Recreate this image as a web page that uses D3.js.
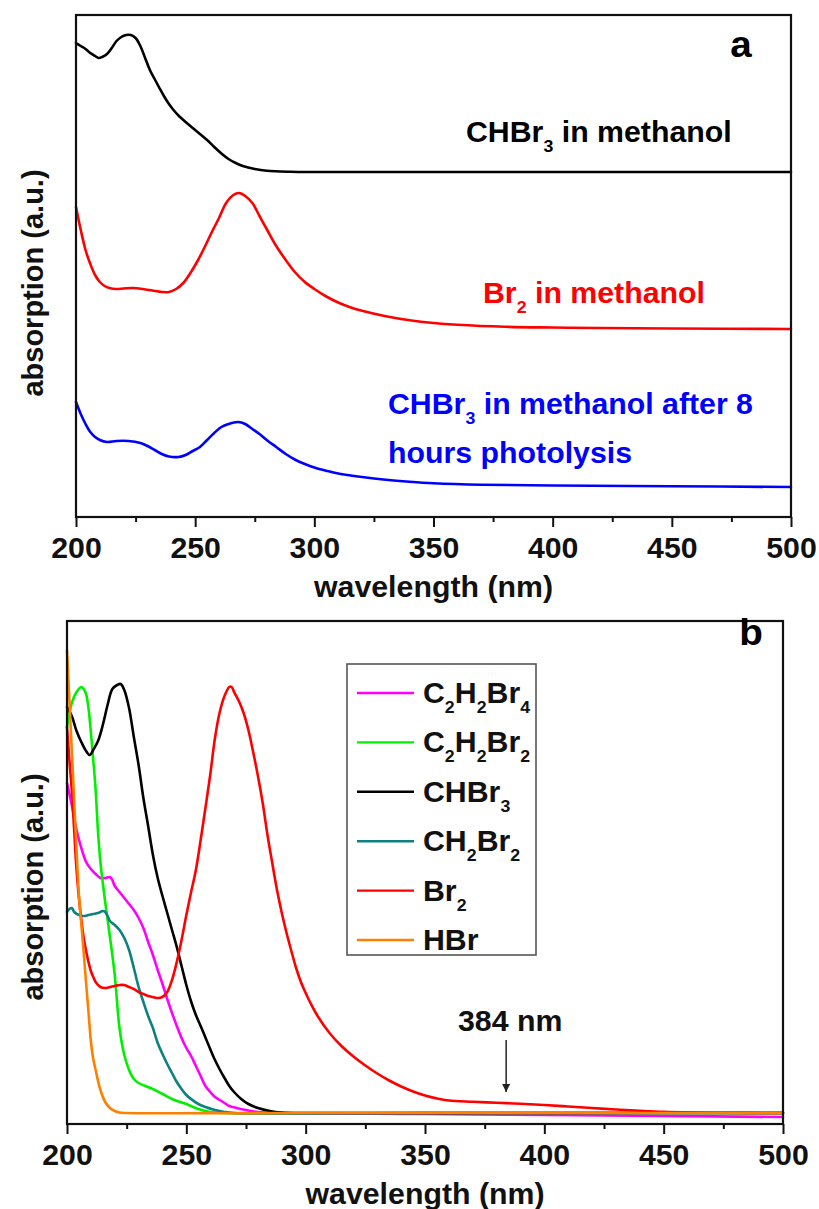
<!DOCTYPE html>
<html>
<head>
<meta charset="utf-8">
<script src="https://cdn.jsdelivr.net/npm/d3@7/dist/d3.min.js"></script>
<style>
  html, body { margin: 0; padding: 0; background: #fff; }
  svg text { font-family: "Liberation Sans", Arial, sans-serif; font-weight: bold; }
</style>
</head>
<body>
<svg id="chart" width="819" height="1209"></svg>
<script>
// ---------- shared axis data ----------
const wavelengthTicks = [200, 250, 300, 350, 400, 450, 500];
const wavelengthMinorTicks = [225, 275, 325, 375, 425, 475];

// ---------- panel a: spectra in methanol (offset for clarity) ----------
const chbr3Methanol = [
  [200,1.896],[202,1.884],[204,1.872],[206,1.856],[208,1.844],[209.5,1.836],[211,1.84],
  [213,1.852],[215,1.876],[217,1.904],[219,1.92],[221,1.928],[223,1.928],[225,1.916],
  [227,1.884],[229,1.836],[231,1.788],[233,1.752],[235,1.716],[237,1.682],[239,1.652],
  [241,1.627],[243,1.606],[246,1.58],[249,1.556],[252,1.532],[255,1.508],[258,1.48],
  [261,1.454],[264,1.432],[267,1.416],[270,1.404],[275,1.392],[280,1.385],[290,1.381],
  [300,1.38],[350,1.38],[400,1.38],[450,1.38],[500,1.38]
];
const br2Methanol = [
  [200,1.24],[202,1.148],[204,1.068],[206,1.012],[208,0.968],[210,0.94],[212,0.924],
  [214,0.916],[217,0.912],[220,0.914],[224,0.916],[228,0.912],[232,0.906],[236,0.9],
  [239,0.9],[242,0.912],[245,0.936],[248,0.976],[251,1.024],[254,1.08],[257,1.14],
  [260,1.196],[263,1.256],[266,1.288],[268.5,1.296],[271,1.284],[274,1.256],[277,1.204],
  [280,1.152],[284,1.084],[288,1.028],[292,0.978],[296,0.94],[300,0.912],[305,0.882],
  [310,0.858],[315,0.839],[320,0.825],[330,0.803],[340,0.787],[350,0.776],[360,0.769],
  [380,0.761],[400,0.758],[420,0.756],[450,0.754],[500,0.752]
];
const chbr3Photolysis = [
  [200,0.46],[202,0.412],[204,0.372],[206,0.34],[208,0.32],[210,0.308],[213,0.3],
  [217,0.304],[222,0.304],[227,0.296],[230,0.284],[233,0.268],[236,0.252],[239,0.242],
  [243,0.24],[246,0.248],[249,0.264],[252,0.28],[255,0.308],[258,0.336],[261,0.36],
  [264,0.372],[268,0.38],[271,0.372],[274,0.352],[277,0.332],[280,0.308],[284,0.28],
  [288,0.252],[292,0.229],[296,0.212],[300,0.198],[305,0.185],[310,0.174],[320,0.16],
  [330,0.149],[340,0.141],[350,0.135],[370,0.129],[400,0.126],[450,0.123],[500,0.12]
];

// ---------- panel b: reference compounds ----------
const c2h2br4 = [
  [200,1.32],[202,1.232],[204,1.132],[206,1.06],[208,1.004],[210,0.976],[212,0.956],
  [214,0.94],[216,0.94],[218,0.944],[219,0.932],[220,0.908],[222,0.884],[224,0.86],
  [226,0.836],[228,0.812],[230,0.78],[232,0.74],[234,0.684],[236,0.632],[238,0.572],
  [240,0.516],[242,0.456],[244,0.4],[246,0.348],[248,0.3],[250,0.26],[252,0.228],
  [254,0.188],[256,0.148],[258,0.108],[260,0.084],[262,0.064],[264,0.052],[266,0.04],
  [268,0.028],[271,0.02],[275,0.012],[280,0.004],[290,0],[350,-0.004],[400,-0.008],
  [450,-0.012],[500,-0.016]
];
const c2h2br2 = [
  [200,1.544],[202,1.64],[204,1.684],[206,1.704],[207,1.696],[208,1.676],[209,1.62],
  [210,1.524],[211,1.412],[212,1.292],[213,1.124],[214,1.004],[216,0.844],[218,0.704],
  [220,0.552],[222,0.34],[224,0.232],[226,0.172],[228,0.136],[230,0.12],[235,0.1],
  [240,0.076],[245,0.052],[250,0.036],[255,0.016],[260,0.004],[265,0],[300,0],[400,0],[500,0]
];
const chbr3 = [
  [200,1.624],[202,1.588],[204,1.528],[206,1.484],[208,1.448],[209.6,1.432],[211,1.452],
  [213,1.488],[215,1.552],[217,1.632],[219,1.696],[221,1.712],[222.5,1.716],[224,1.692],
  [226,1.62],[228,1.504],[230,1.392],[232,1.26],[234,1.148],[236,1.032],[238,0.94],
  [240,0.868],[242,0.8],[244,0.732],[246,0.664],[248,0.588],[250,0.512],[252,0.446],
  [254,0.392],[256,0.348],[258,0.302],[260,0.256],[262,0.212],[264,0.174],[266,0.14],
  [268,0.108],[270,0.084],[273,0.056],[276,0.036],[280,0.02],[285,0.008],[290,0.002],
  [300,0],[400,0],[500,0]
];
const ch2br2 = [
  [200,0.804],[201,0.816],[202,0.82],[203,0.804],[205,0.792],[207,0.788],[209,0.792],
  [211,0.796],[213,0.8],[215,0.808],[216,0.804],[217,0.788],[218,0.768],[220,0.752],
  [222,0.732],[224,0.7],[226,0.652],[228,0.58],[230,0.504],[232,0.444],[234,0.388],
  [236,0.34],[238,0.28],[240,0.236],[242,0.196],[244,0.16],[246,0.124],[248,0.096],
  [250,0.072],[252,0.056],[255,0.036],[258,0.024],[262,0.012],[266,0.004],[270,0],
  [350,0],[500,0]
];
const br2 = [
  [200,1.544],[201,1.412],[202,1.292],[203,1.132],[204,0.972],[205,0.86],[206,0.772],
  [207,0.7],[208,0.648],[209,0.604],[210,0.568],[211,0.544],[212,0.524],[214,0.504],
  [216,0.5],[218,0.504],[220,0.508],[222,0.512],[224,0.512],[226,0.504],[228,0.496],
  [230,0.484],[232,0.476],[234,0.468],[236,0.464],[238,0.46],[240,0.464],[242,0.484],
  [244,0.532],[246,0.604],[248,0.692],[250,0.792],[252,0.884],[254,0.972],[256,1.092],
  [258,1.22],[260,1.352],[262,1.5],[264,1.604],[266,1.668],[268,1.704],[269,1.704],
  [270,1.684],[272,1.648],[274,1.6],[276,1.532],[278,1.444],[280,1.348],[282,1.24],
  [284,1.112],[286,1.0],[288,0.892],[290,0.8],[292,0.72],[294,0.648],[296,0.58],
  [298,0.524],[300,0.48],[302,0.44],[305,0.388],[310,0.32],[315,0.268],[320,0.226],
  [325,0.19],[330,0.158],[335,0.13],[340,0.106],[345,0.086],[350,0.07],[355,0.058],
  [360,0.05],[370,0.045],[380,0.041],[390,0.037],[400,0.032],[410,0.026],[420,0.02],
  [430,0.014],[440,0.009],[450,0.005],[475,0.001],[500,0]
];
const hbr = [
  [200,1.852],[201,1.652],[202,1.452],[203,1.252],[204,1.052],[205,0.872],[206,0.756],
  [207,0.64],[208,0.52],[209,0.404],[210,0.288],[211,0.216],[212,0.172],[213,0.128],
  [214,0.092],[216,0.044],[218,0.02],[220,0.008],[222,0.002],[225,0],[300,0],[400,0],[500,0]
];

const legendNames = [
  [["C",0],["2",1],["H",0],["2",1],["Br",0],["4",1]],
  [["C",0],["2",1],["H",0],["2",1],["Br",0],["2",1]],
  [["CHBr",0],["3",1]],
  [["CH",0],["2",1],["Br",0],["2",1]],
  [["Br",0],["2",1]],
  [["HBr",0]]
];
const legendColors = ["#ff00ff", "#00f000", "#000000", "#0f8080", "#ff0000", "#ff8000"];
const panelBSeries = [c2h2br4, c2h2br2, chbr3, ch2br2, br2, hbr];

const arrowWavelength = 384;
const arrowLabel = "384 nm";

// ---------- drawing helpers ----------
const svg = d3.select("#chart");
const WIDEN = 1.045;   // horizontal text widening used throughout the figure

// text made of normal and subscript pieces, widened about its anchor point
function richText(g, parts, x, y, opts) {
  const holder = g.append("g").attr("transform", `translate(${x},${y}) scale(${WIDEN},1)`);
  const t = holder.append("text")
    .attr("x", 0).attr("y", 0)
    .attr("fill", opts.color || "#000")
    .attr("font-size", opts.size)
    .attr("text-anchor", opts.anchor || "start");
  let shifted = false;
  parts.forEach(([s, sub]) => {
    const ts = t.append("tspan").text(s);
    if (sub) {
      ts.attr("font-size", opts.subSize).attr("dy", shifted ? 0 : opts.subShift);
      shifted = true;
    } else {
      ts.attr("dy", shifted ? -opts.subShift : 0);
      shifted = false;
    }
  });
  return t;
}

function drawFrame(box, x, labelY, labelX) {
  const g = svg.append("g");
  // bottom axis with major and minor ticks
  const axis = d3.axisBottom(x).tickValues(wavelengthTicks).tickSize(10).tickPadding(10)
    .tickFormat(d3.format("d"));
  const ax = g.append("g").attr("transform", `translate(0,${box.bottom})`).call(axis);
  ax.select(".domain").remove();
  ax.selectAll(".tick line").attr("stroke", "#111").attr("stroke-width", 2);
  ax.selectAll(".tick text").attr("font-size", 29).attr("fill", "#111")
    .attr("font-family", "'Liberation Sans', Arial, sans-serif").attr("font-weight", "bold")
    .attr("transform", `scale(${WIDEN},1)`);
  const minor = d3.axisBottom(x).tickValues(wavelengthMinorTicks).tickSize(5).tickFormat("");
  const mx = g.append("g").attr("transform", `translate(0,${box.bottom})`).call(minor);
  mx.select(".domain").remove();
  mx.selectAll(".tick line").attr("stroke", "#111").attr("stroke-width", 2);
  // frame
  g.append("rect")
    .attr("x", box.left).attr("y", box.top)
    .attr("width", box.right - box.left).attr("height", box.bottom - box.top)
    .attr("fill", "none").attr("stroke", "#111").attr("stroke-width", 2.2);
  // axis titles
  richText(g, [["wavelength (nm)", 0]], (box.left + box.right) / 2, box.bottom + 80,
    { size: 29, anchor: "middle", color: "#111" });
  g.append("text")
    .attr("transform", `translate(${labelX},${labelY}) rotate(-90)`)
    .attr("text-anchor", "middle").attr("font-size", 29).attr("fill", "#111")
    .text("absorption (a.u.)");
  return g;
}

function drawSeries(data, x, y, color, width) {
  const line = d3.line().x(d => x(d[0])).y(d => y(d[1])).curve(d3.curveCatmullRom.alpha(0.5));
  svg.append("path").datum(data)
    .attr("d", line).attr("fill", "none")
    .attr("stroke", color).attr("stroke-width", width)
    .attr("stroke-linejoin", "round").attr("stroke-linecap", "round");
}

// ---------- panel a ----------
const boxA = { left: 76, right: 791, top: 15, bottom: 517 };
const xA = d3.scaleLinear().domain([200, 500]).range([boxA.left, boxA.right]);
const yA = d3.scaleLinear().domain([0, 2.008]).range([boxA.bottom, boxA.top]);

drawSeries(chbr3Methanol, xA, yA, "#000000", 2.6);
drawSeries(br2Methanol, xA, yA, "#ff0000", 2.6);
drawSeries(chbr3Photolysis, xA, yA, "#0000ff", 2.6);
drawFrame(boxA, xA, 283, 43);

const sub = { size: 29, subSize: 17, subShift: 10 };
richText(svg, [["CHBr",0],["3",1],[" in methanol",0]], 466, 142, { ...sub, color: "#000" });
richText(svg, [["Br",0],["2",1],[" in methanol",0]], 483, 303, { ...sub, color: "#ff0000" });
richText(svg, [["CHBr",0],["3",1],[" in methanol after 8",0]], 388, 414, { ...sub, color: "#0000ff" });
richText(svg, [["hours photolysis",0]], 388, 463, { ...sub, color: "#0000ff" });

richText(svg, [["a",0]], 741, 57, { size: 37, anchor: "middle", color: "#000" });

// ---------- panel b ----------
const boxB = { left: 67, right: 783, top: 621, bottom: 1124 };
const xB = d3.scaleLinear().domain([200, 500]).range([boxB.left, boxB.right]);
const yB = d3.scaleLinear().domain([-0.044, 1.968]).range([boxB.bottom, boxB.top]);

panelBSeries.forEach((s, i) => drawSeries(s, xB, yB, legendColors[i], 2.6));
drawFrame(boxB, xB, 887, 43);

richText(svg, [["b",0]], 751, 645, { size: 37, anchor: "middle", color: "#000" });

// legend
const leg = svg.append("g");
leg.append("rect").attr("x", 347).attr("y", 664).attr("width", 189).attr("height", 291)
  .attr("fill", "#fff").attr("stroke", "#555").attr("stroke-width", 1.6);
legendNames.forEach((parts, i) => {
  const cy = 693 + i * 49.4;
  leg.append("line").attr("x1", 357).attr("x2", 414).attr("y1", cy).attr("y2", cy)
    .attr("stroke", legendColors[i]).attr("stroke-width", 2.4);
  richText(leg, parts, 423, cy + 10, { size: 29, subSize: 17, subShift: 10, color: "#111" });
});

// arrow marking 384 nm
const ax384 = xB(arrowWavelength);
svg.append("defs").append("marker")
  .attr("id", "arrowHead").attr("viewBox", "0 0 10 10")
  .attr("refX", 10).attr("refY", 5)
  .attr("markerWidth", 16).attr("markerHeight", 8)
  .attr("markerUnits", "userSpaceOnUse")
  .attr("orient", "auto")
  .append("path").attr("d", "M0,0 L10,5 L0,10 Z").attr("fill", "#222");
svg.append("line").attr("x1", ax384).attr("x2", ax384).attr("y1", 1040).attr("y2", 1092)
  .attr("stroke", "#222").attr("stroke-width", 1.5).attr("marker-end", "url(#arrowHead)");
richText(svg, [[arrowLabel, 0]], ax384 + 4, 1031, { size: 29, anchor: "middle", color: "#111" });
</script>
</body>
</html>
